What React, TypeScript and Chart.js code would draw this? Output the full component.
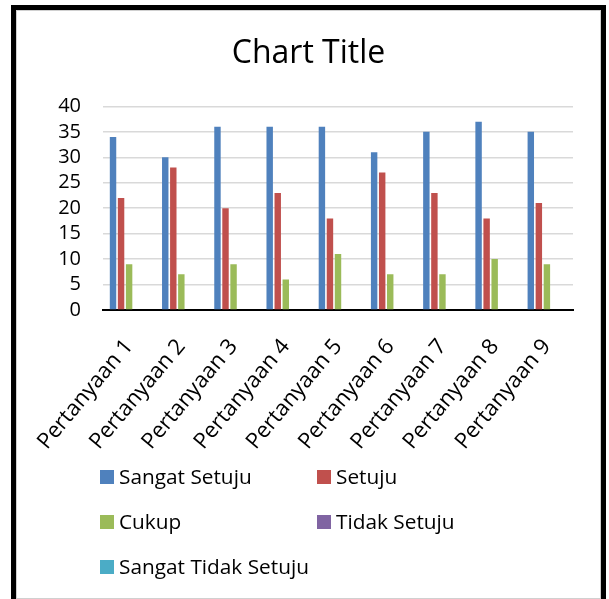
import React, { useEffect, useRef } from "react";
import { Chart, registerables } from "chart.js";

Chart.register(...registerables);

const categories = [
  "Pertanyaan 1",
  "Pertanyaan 2",
  "Pertanyaan 3",
  "Pertanyaan 4",
  "Pertanyaan 5",
  "Pertanyaan 6",
  "Pertanyaan 7",
  "Pertanyaan 8",
  "Pertanyaan 9",
];
const seriesNames = ["Sangat Setuju", "Setuju", "Cukup", "Tidak Setuju", "Sangat Tidak Setuju"];
const sangatSetuju = [34, 30, 36, 36, 36, 31, 35, 37, 35];
const setuju = [22, 28, 20, 23, 18, 27, 23, 18, 21];
const cukup = [9, 7, 9, 6, 11, 7, 7, 10, 9];
const tidakSetuju = [0, 0, 0, 0, 0, 0, 0, 0, 0];
const sangatTidakSetuju = [0, 0, 0, 0, 0, 0, 0, 0, 0];
const seriesColors = ["#4F81BD", "#C0504D", "#9BBB59", "#8064A2", "#4BACC6"];
const yTicks = [0, 5, 10, 15, 20, 25, 30, 35, 40];

const FONT = "'Open Sans', 'DejaVu Sans', sans-serif";

const gridLegend = {
  id: "gridLegend",
  afterDraw(chart: any) {
    const ctx = chart.ctx;
    const cols = [100, 317];
    const rows = [477, 522, 567];
    const box = 14;
    const size = 20.8;
    ctx.save();
    ctx.font = `${size}px ${FONT}`;
    ctx.textAlign = "left";
    ctx.textBaseline = "alphabetic";
    chart.data.datasets.forEach((ds: any, i: number) => {
      const cx = cols[i % 2];
      const cy = rows[Math.floor(i / 2)];
      ctx.fillStyle = ds.backgroundColor;
      ctx.fillRect(cx, cy - box / 2, box, box);
      ctx.fillStyle = "#000";
      ctx.fillText(ds.label, cx + box + 5, cy + (size * 0.714) / 2);
    });
    ctx.restore();
  },
};

export default function App() {
  const ref = useRef<HTMLCanvasElement | null>(null);
  useEffect(() => {
    if (!ref.current) return;
    const values = [sangatSetuju, setuju, cukup, tidakSetuju, sangatTidakSetuju];
    const chart = new Chart(ref.current, {
      type: "bar",
      data: {
        labels: categories,
        datasets: seriesNames.map((name, i) => ({
          label: name,
          data: values[i],
          backgroundColor: seriesColors[i],
          borderWidth: 0,
          categoryPercentage: 0.77,
          barPercentage: 0.8,
        })),
      },
      options: {
        responsive: false,
        animation: false,
        layout: { padding: { left: 44, right: 36, top: 0, bottom: 139 } },
        plugins: {
          legend: { display: false },
          tooltip: { enabled: false },
          title: {
            display: true,
            text: "Chart Title",
            color: "#000",
            font: { family: FONT, size: 32, weight: "normal", lineHeight: 1.2 },
            padding: { top: 35, bottom: 33 },
          },
        },
        scales: {
          x: {
            grid: { display: false, drawTicks: false },
            border: { display: true, color: "#000", width: 2 },
            ticks: {
              color: "#000",
              font: { family: FONT, size: 22 },
              minRotation: 50,
              maxRotation: 50,
              autoSkip: false,
              padding: 24,
            },
            afterFit: (s: any) => {
              s.height = 150;
            },
          },
          y: {
            min: 0,
            max: 40,
            afterBuildTicks: (s: any) => {
              s.ticks = yTicks.map((v) => ({ value: v }));
            },
            grid: {
              color: (c: any) => (c.tick && c.tick.value === 0 ? "rgba(0,0,0,0)" : "#D9D9D9"),
              lineWidth: 1.5,
              drawTicks: false,
            },
            border: { display: false },
            ticks: {
              color: "#000",
              font: { family: FONT, size: 20 },
              padding: 22,
              autoSkip: false,
            },
            afterFit: (s: any) => {
              s.width = 59;
            },
          },
        },
      },
      plugins: [gridLegend],
    });
    return () => chart.destroy();
  }, []);

  return (
    <div style={{ position: "fixed", left: 0, top: 0, width: 609, height: 599, background: "#fff", overflow: "hidden" }}>
      <canvas ref={ref} width={609} height={599} style={{ position: "absolute", left: 0, top: 0, width: 609, height: 599 }} />
      <div
        style={{
          position: "absolute",
          left: 16,
          top: 10,
          width: 585,
          height: 589,
          border: "1px solid #D0D0D0",
          boxSizing: "border-box",
          pointerEvents: "none",
        }}
      />
      <div
        style={{
          position: "absolute",
          left: 11,
          top: 5,
          width: 595,
          height: 700,
          border: "5px solid #000",
          boxSizing: "border-box",
          pointerEvents: "none",
        }}
      />
    </div>
  );
}
